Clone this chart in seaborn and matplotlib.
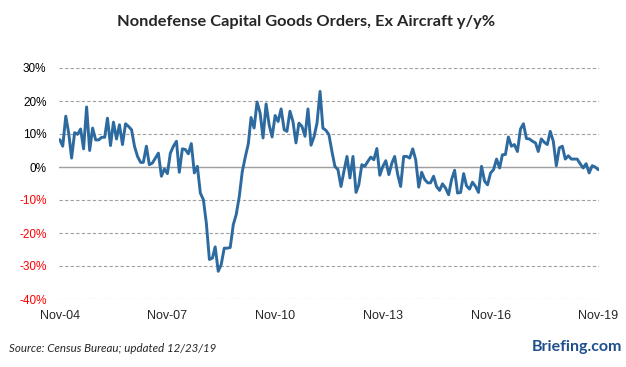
import matplotlib
matplotlib.use("Agg")
import matplotlib.pyplot as plt
import pandas as pd
import seaborn as sns

# monthly y/y % change, Nov-04 .. Nov-19
orders_yy = [
    8.3, 6.3, 15.4, 10.0, 2.7, 10.4, 9.9, 11.5, 5.5, 18.2, 5.0, 11.8,
    8.2, 8.2, 9.0, 9.0, 14.8, 6.5, 13.6, 8.5, 12.8, 6.8, 13.1, 12.3,
    11.3, 6.3, 3.2, 1.4, 1.4, 6.3, 0.7, 1.2, 2.7, 4.2, -2.8, -0.6,
    -2.0, 4.2, 6.3, 7.8, -1.6, 5.5, 5.3, 4.0, 7.1, -1.8, 0.2, -7.9,
    -9.9, -17.0, -28.0, -27.6, -24.2, -31.6, -29.6, -24.6, -24.6, -24.4, -17.5, -14.4,
    -9.0, -1.5, 3.0, 7.0, 15.0, 11.8, 19.7, 16.4, 8.8, 19.1, 12.8, 9.1,
    15.6, 13.8, 17.6, 11.3, 10.8, 16.9, 13.8, 7.3, 13.3, 12.3, 9.3, 17.6,
    6.6, 9.1, 13.3, 22.9, 11.8, 11.1, 9.8, 4.7, 0.2, -0.8, -5.9, -1.3,
    3.2, -3.3, 3.2, -7.7, -5.4, 0.7, 0.2, 1.7, 3.0, 2.2, 5.6, -2.5,
    0.2, 1.9, -2.3, 1.2, 3.2, -2.3, -5.9, 3.2, 3.2, 2.7, 5.5, 2.2,
    -6.1, -1.6, -3.8, -4.8, -4.8, -2.8, -5.9, -7.1, -5.1, -6.4, -8.4, -3.8,
    -1.0, -7.9, -7.7, -2.0, -5.7, -6.7, -4.6, -5.9, -7.7, 0.2, -4.3, -5.4,
    -1.8, -0.8, 2.4, -0.3, 3.7, 3.8, 9.1, 6.3, 6.8, 4.7, 11.5, 13.1,
    8.6, 8.5, 7.8, 7.3, 4.7, 8.5, 7.5, 6.8, 10.8, 7.8, 0.4, 5.8,
    6.3, 2.4, 3.4, 2.4, 2.4, 2.4, 1.0, -0.3, 1.0, -1.8, 0.4, 0.0,
    -0.8,
]
months = pd.date_range("2004-11-01", periods=len(orders_yy), freq="MS")
tick_dates = pd.to_datetime(["2004-11-01", "2007-11-01", "2010-11-01",
                             "2013-11-01", "2016-11-01", "2019-11-01"])
tick_labels = ["Nov-04", "Nov-07", "Nov-10", "Nov-13", "Nov-16", "Nov-19"]
y_ticks = [-40, -30, -20, -10, 0, 10, 20, 30]

df = pd.DataFrame({"month": months, "yy": orders_yy})

sns.set_style("white")
plt.rcParams["font.family"] = ["Liberation Sans", "DejaVu Sans"]

fig = plt.figure(figsize=(6.26, 3.67), dpi=100)
ax = fig.add_axes([59 / 626, 68 / 367, 540 / 626, 231 / 367])

ax.yaxis.grid(True, linestyle=(0, (3, 2)), color="#a0a0a0", lw=0.8)
ax.axhline(0, color="#a0a0a0", lw=1.0, zorder=1)
sns.lineplot(data=df, x="month", y="yy", color="#2d6a9f", lw=2.1, ax=ax, zorder=3)

ax.set_xlim(months[0] - pd.Timedelta(days=8), months[-1] + pd.Timedelta(days=8))
ax.set_ylim(-40, 30)
ax.set_yticks(y_ticks)
ax.set_yticklabels([f"{v}%" for v in y_ticks], fontsize=8.5)
for lab, v in zip(ax.get_yticklabels(), y_ticks):
    lab.set_color("#ff0000" if v < 0 else "black")
ax.set_xticks(tick_dates)
ax.set_xticklabels(tick_labels, fontsize=9)
ax.tick_params(axis="y", length=0, pad=9)
ax.tick_params(axis="x", length=0, pad=8)
ax.set_xlabel("")
ax.set_ylabel("")
sns.despine(ax=ax, left=True, bottom=True)

fig.text(0.489, 1 - 22 / 367, "Nondefense Capital Goods Orders, Ex Aircraft y/y%",
         ha="center", va="center", fontsize=11.8, weight="bold", family="Lato")
fig.text(9 / 626, 1 - 349 / 367, "Source: Census Bureau; updated 12/23/19",
         ha="left", va="center", fontsize=8.3, style="italic", family="Lato")
fig.text(622 / 626, 1 - 347 / 367, "Briefing.com", ha="right", va="center",
         fontsize=11.5, weight="bold", color="#1f4f8c", family="Lato")

fig.savefig("out.png", dpi=100)
